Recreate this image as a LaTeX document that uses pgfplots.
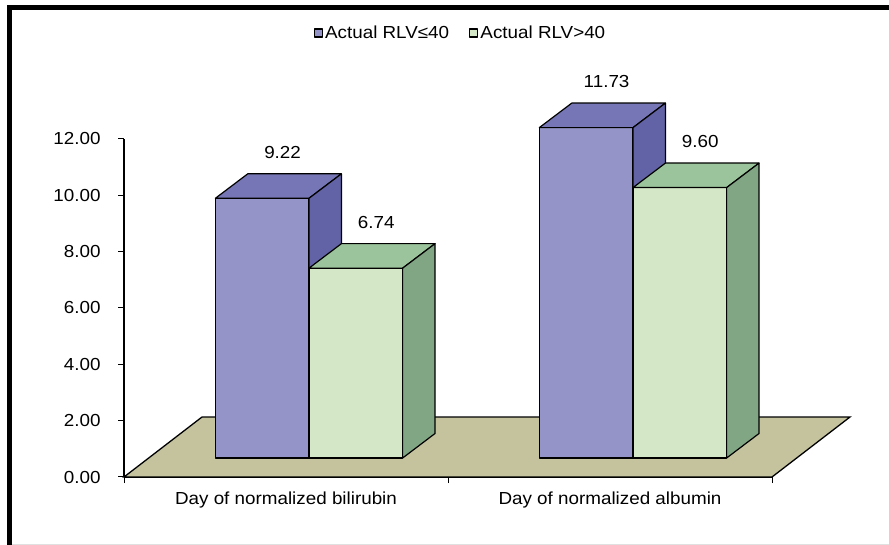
\documentclass[border=0pt]{standalone}
\usepackage{fontspec}
\setmainfont{Liberation Sans}[FakeStretch=1.08]
\usepackage{pgfplots}
\usepackage{pgfplotstable}
\pgfplotsset{compat=1.18}

\definecolor{blueFront}{RGB}{148,148,200}
\definecolor{blueTop}{RGB}{118,118,182}
\definecolor{blueSide}{RGB}{98,98,166}
\definecolor{greenFront}{RGB}{212,232,200}
\definecolor{greenTop}{RGB}{156,196,156}
\definecolor{greenSide}{RGB}{128,166,132}
\definecolor{floorCol}{RGB}{196,195,158}

% days until normalisation, by actual RLV group
\pgfplotstableread{
x  le40   gt40
0  9.22   6.74
1  11.73  9.60
}\rlvdata

% bar geometry (axis units): width, depth offset in x and y
\def\bw{0.289}
\def\dx{0.100}
\def\dy{0.87}

% top and right-hand faces of one bar
\newcommand\barfaces[4]{%
  \pgfplotstablegetelem{#1}{x}\of\rlvdata\let\xc\pgfplotsretval
  \pgfplotstablegetelem{#1}{#2}\of\rlvdata\let\val\pgfplotsretval
  \pgfmathsetmacro\xl{\xc+#3-\bw/2}%
  \pgfmathsetmacro\xr{\xc+#3+\bw/2}%
  \pgfmathsetmacro\xlb{\xl+\dx}%
  \pgfmathsetmacro\xrb{\xr+\dx}%
  \pgfmathsetmacro\vb{\val+\dy}%
  \edef\doit{%
    \noexpand\addplot[fill=#4Top, forget plot] coordinates {(\xl,\val) (\xr,\val) (\xrb,\vb) (\xlb,\vb)} -- cycle;
    \noexpand\addplot[fill=#4Side, forget plot] coordinates {(\xr,0) (\xrb,\dy) (\xrb,\vb) (\xr,\val)} -- cycle;
  }\doit
}

\newcommand\lblfont{\fontsize{17.5}{21}\selectfont}

\begin{document}
\begin{tikzpicture}
\path[use as bounding box] (0,0) rectangle (889bp,545bp);
% chart frame
\draw[line width=5bp] (9.8bp,0) -- (9.8bp,537.3bp) -- (889bp,537.3bp);
\draw[line width=1bp, black!12] (12bp,1bp) -- (889bp,1bp);

% floor and value axis
\begin{axis}[
  at={(124bp,68bp)}, anchor=south west,
  scale only axis, width=648bp, height=338bp,
  xmin=-0.5, xmax=1.5, ymin=0, ymax=12,
  clip=false,
  axis x line*=bottom, axis y line*=left,
  axis line style={line width=1.4bp},
  tick align=outside, major tick length=6bp,
  tick style={black, line width=1bp},
  xtick={-0.5,0.5,1.5}, xticklabels={},
  extra x ticks={0,1},
  extra x tick labels={Day of normalized bilirubin, Day of normalized albumin},
  extra x tick style={major tick length=0pt},
  xticklabel style={yshift=-11bp},
  ytick={0,2,...,12},
  yticklabel style={xshift=-14bp, /pgf/number format/.cd, fixed, fixed zerofill, precision=2},
  /pgf/number format/assume math mode=true,
  tick label style={font=\lblfont},
]
\addplot[fill=floorCol, draw=black, line width=1.3bp]
  coordinates {(-0.5,0) (1.5,0) (1.7407,2.13) (-0.2593,2.13)} -- cycle;
\end{axis}

% bars
\begin{axis}[
  at={(147bp,87bp)}, anchor=south west,
  scale only axis, width=648bp, height=338bp,
  xmin=-0.5, xmax=1.5, ymin=0, ymax=12,
  clip=false, hide axis,
  /pgf/number format/assume math mode=true,
  every axis plot/.append style={draw=black, line width=1.2bp, line join=round},
  value label/.style={draw=none, mark=none, forget plot, point meta=explicit,
    nodes near coords={\pgfmathprintnumber[fixed,fixed zerofill,precision=2]{\pgfplotspointmeta}},
    every node near coord/.append style={anchor=south, yshift=11.5bp, font=\lblfont, text=black}},
  legend columns=2,
  legend style={draw=none, fill=none, at={(0.4838,1.257)}, anchor=center,
    font=\lblfont, /tikz/every even column/.append style={column sep=18bp},
    inner sep=0pt},
]
\addplot[ybar, bar width=\bw, bar shift=-0.1445, fill=blueFront, forget plot]
  table[x=x, y=le40]\rlvdata;
\barfaces{0}{le40}{-0.1445}{blue}
\barfaces{1}{le40}{-0.1445}{blue}

\addplot[ybar, bar width=\bw, bar shift=0.1445, fill=greenFront, forget plot]
  table[x=x, y=gt40]\rlvdata;
\barfaces{0}{gt40}{0.1445}{green}
\barfaces{1}{gt40}{0.1445}{green}

% legend swatches
\addlegendimage{legend image code/.code={\draw[fill=blueFront, draw=black, line width=1.3bp] (0bp,-4bp) rectangle (8bp,4bp);}}
\addlegendentry{Actual RLV≤40}
\addlegendimage{legend image code/.code={\draw[fill=greenFront, draw=black, line width=1.3bp] (0bp,-4bp) rectangle (8bp,4bp);}}
\addlegendentry{Actual RLV>40}

% value labels above the bar tops
\addplot[value label]
  table[x expr=\thisrow{x}-0.1445+0.063, y expr=\thisrow{le40}+\dy, meta=le40]\rlvdata;
\addplot[value label]
  table[x expr=\thisrow{x}+0.1445+0.063, y expr=\thisrow{gt40}+\dy, meta=gt40]\rlvdata;
\end{axis}
\end{tikzpicture}
\end{document}
